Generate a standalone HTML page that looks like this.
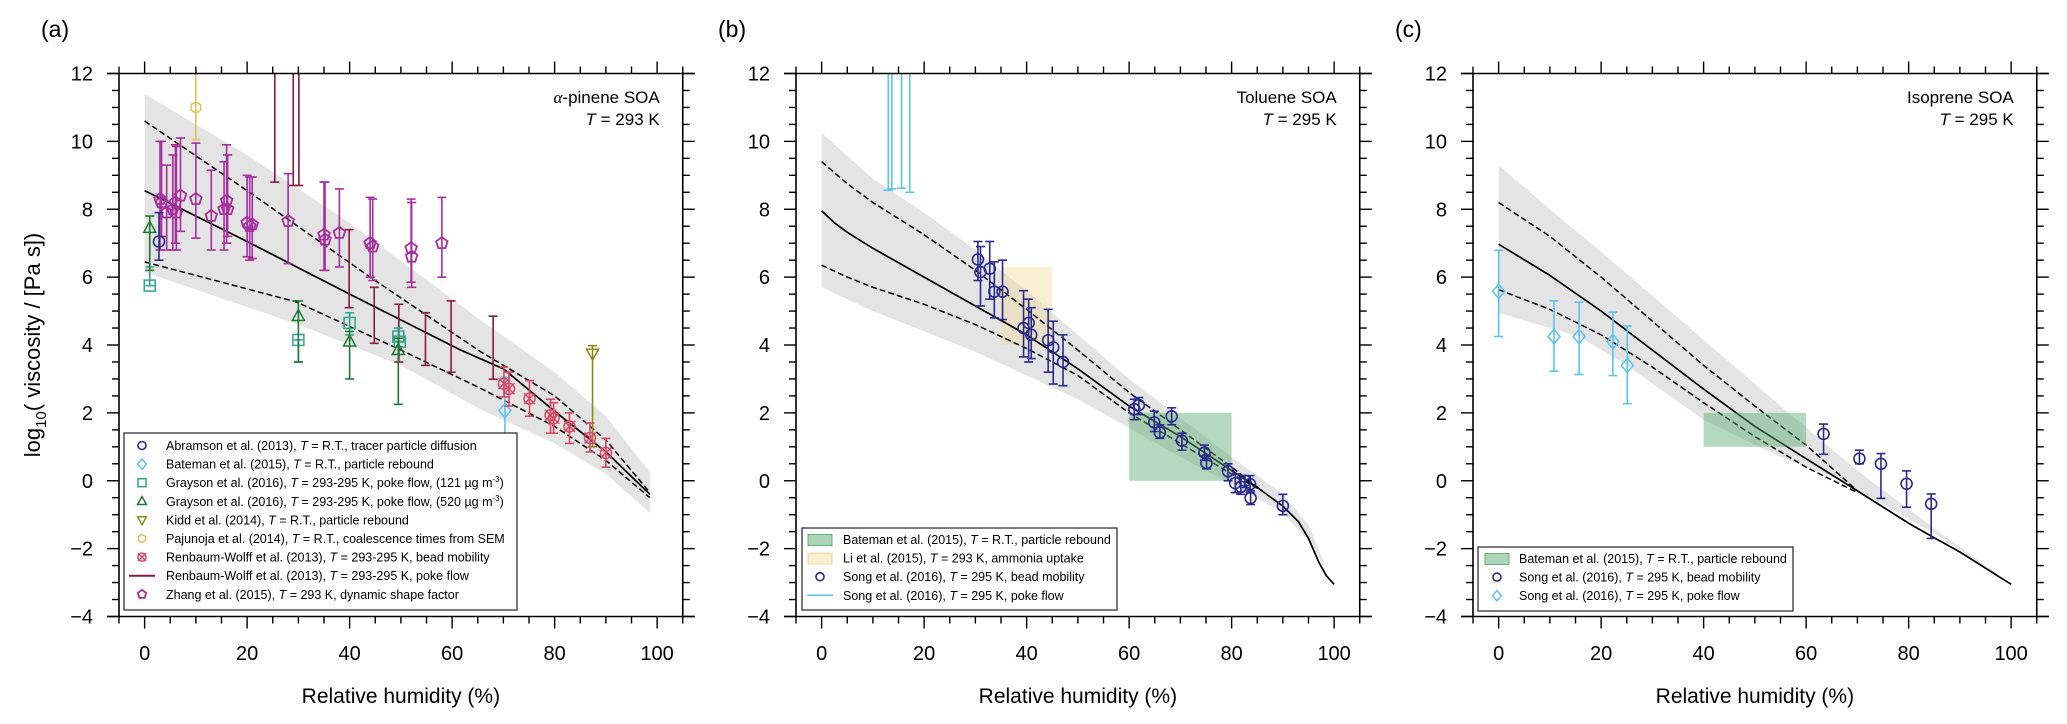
<!DOCTYPE html>
<html><head><meta charset="utf-8"><style>
html,body{margin:0;padding:0;background:#fff;}
svg{display:block;font-family:"Liberation Sans",Arial,sans-serif;}
</style></head><body>
<svg id="fig" width="2067" height="724" viewBox="0 0 2067 724" xmlns="http://www.w3.org/2000/svg"></svg>
<script>
// ---------- Panel (a) alpha-pinene data ----------
const aBandUpper=[[0,11.4],[20,9.6],[40,7.6],[65.6,4.73],[80,3.2],[90,1.9],[98.6,0.25]];
const aBandLower=[[0,6.15],[30,4.6],[50,3.4],[65.6,2.1],[80,1.1],[90,0.2],[98.6,-0.95]];
const aSolid=[[0,8.55],[20,7.05],[40,5.5],[61.7,3.85],[70,3.3],[80,2.05],[90,0.85],[98.6,-0.4]];
const aDashUp=[[0,10.6],[20,8.55],[44,6.0],[65.6,3.8],[80,2.5],[90,1.2],[98.6,-0.35]];
const aDashLo=[[0,6.45],[29.6,5.27],[50,3.85],[65.6,2.72],[80,1.6],[90,0.6],[98.6,-0.5]];
const aZhang=[[3,8.3,10.0,6.8],[3.3,8.2,10.0,7.2],[4.3,7.9,9.3,6.8],[5.5,8.0,9.6,6.8],[6,8.2,9.9,7.0],[6.2,7.9,9.85,6.8],[7,8.4,10.1,7.35],[10,8.3,9.95,7.15],[13,7.8,9.15,6.8],[15.5,8.0,9.4,6.8],[16,8.25,9.9,7.0],[16.2,8.0,9.6,7.2],[20,7.6,9.0,6.6],[20.5,7.5,8.95,6.5],[21,7.55,8.95,6.55],[28,7.65,9.05,6.4],[35,7.25,8.8,6.2],[35.2,7.1,8.8,6.2],[38,7.3,8.6,6.3],[44,7.0,8.35,6.0],[44.5,6.9,8.3,5.9],[52,6.85,8.3,5.85],[52.1,6.6,8.2,5.7],[58,7.0,8.35,6.0]];
const aRWPoke=[[25.4,12,8.8],[29,12,8.7],[30.1,12,8.7],[39.9,7.4,5.1],[44.8,5.7,4.05],[49.6,5.2,3.5],[54.8,4.95,3.4],[59.8,5.3,3.2],[68,4.85,2.99]];
const aRWBead=[[70.1,2.86,3.35,2.47],[71.1,2.71,3.2,2.2],[75.1,2.42,2.95,1.9],[79.2,1.93,2.4,1.4],[79.8,1.84,2.3,1.4],[82.9,1.6,2.0,1.1],[86.9,1.26,1.7,0.85],[90,0.82,1.25,0.4]];
const aBateman=[[70.3,2.07,3.05,1.1]];
const aKidd=[[87.4,3.75,3.98,1.0]];
const aPajunoja=[[10,11.0,12,10.05]];
const aAbramson=[[2.8,7.05,7.9,6.5]];
const aGrayson121=[[1,5.75,6.3,5.75],[30,4.15,4.15,3.5],[40,4.65,4.95,4.3],[49.5,4.25,4.5,3.95],[49.8,4.1,4.1,4.1]];
const aGrayson520=[[1,7.45,7.8,6.2],[30,4.85,5.3,3.5],[40,4.1,4.4,3.0],[49.5,3.85,4.2,2.25]];
// ---------- Panel (b) toluene ----------
const bBandUpper=[[0,10.25],[10,8.9],[20,7.9],[30,6.8],[40,5.6],[50,4.3],[60,3.0],[70,1.85],[80,0.7],[90,-0.4],[95,-1.3],[98,-2.4]];
const bBandLower=[[0,5.7],[10,5.0],[20,4.4],[30,3.8],[40,3.1],[50,2.4],[60,1.55],[70,0.7],[80,-0.1],[90,-0.95],[95,-1.8],[98,-2.5]];
const bSolid=[[0,7.95],[2.5,7.6],[5,7.32],[10,6.85],[20,6.0],[30,5.15],[40,4.3],[50,3.3],[60,2.2],[70,1.3],[80,0.3],[85,-0.2],[90,-0.75],[93,-1.2],[95,-1.7],[97,-2.4],[98.5,-2.8],[100,-3.05]];
const bDashUp=[[0,9.4],[5,8.75],[10,8.2],[20,7.25],[30,6.2],[40,5.05],[50,3.85],[60,2.6],[70,1.5],[80,0.4],[86,-0.3]];
const bDashLo=[[0,6.35],[5,6.0],[10,5.7],[20,5.2],[30,4.6],[40,3.9],[50,3.1],[60,2.0],[70,1.1],[80,0.2],[86,-0.3]];
const bSongPoke=[[13,12,8.56],[13.7,12,8.6],[15.6,12,8.62],[17.2,12,8.5]];
const bSongBead=[[30.5,6.52,7.05,5.9],[31,6.15,6.9,5.15],[32.8,6.25,7.05,5.35],[33.7,5.57,6.45,4.8],[35.3,5.57,6.5,4.75],[39.4,4.5,5.6,3.65],[40.4,4.65,5.35,3.5],[40.9,4.3,5.1,3.6],[44.2,4.14,5.05,3.2],[45.2,3.93,4.7,2.85],[47.1,3.5,4.3,2.8],[61,2.11,2.4,1.8],[61.9,2.23,2.45,1.95],[64.9,1.72,2.05,1.45],[66,1.42,1.65,1.25],[68.3,1.9,2.15,1.65],[70.3,1.18,1.4,0.9],[74.7,0.83,1.05,0.6],[75.1,0.52,0.75,0.35],[79.3,0.28,0.5,0.0],[80.7,-0.07,0.2,-0.35],[81.8,-0.18,0.1,-0.4],[82.6,0.0,0.15,-0.2],[83.6,-0.1,0.15,-0.35],[83.7,-0.51,-0.3,-0.7],[90,-0.74,-0.4,-1.0]];
const bBatemanBox=[60,80,0,2];
const bLiBox=[35,45,4.0,6.3];
// ---------- Panel (c) isoprene ----------
const cBandUpper=[[0,9.3],[10,8.0],[20,6.75],[30,5.45],[40,4.15],[50,2.85],[56,2.07],[70,0.3],[85,-1.4],[100,-3.05]];
const cBandLower=[[0,4.94],[15.7,4.25],[25,3.4],[40,1.8],[55,0.7],[65.4,0.1],[84.5,-1.5],[100,-3.05]];
const cSolid=[[0,6.97],[10,6.05],[20,5.0],[30,3.85],[40,2.7],[50,1.6],[60,0.65],[70,-0.3],[80,-1.25],[84.5,-1.64],[90,-2.1],[100,-3.05]];
const cDashUp=[[0,8.2],[10,7.2],[20,6.0],[30,4.7],[40,3.4],[50,2.2],[60,1.05],[70,-0.3]];
const cDashLo=[[0,5.63],[10,5.05],[20,4.3],[30,3.35],[40,2.3],[50,1.3],[60,0.4],[70,-0.35]];
const cBateman=[[0,5.58,6.79,4.25],[10.8,4.25,5.3,3.23],[15.7,4.25,5.26,3.13],[22.3,4.1,4.97,3.1],[25.1,3.4,4.56,2.27]];
const cSongBead=[[63.4,1.38,1.67,0.78],[70.4,0.65,0.9,0.5],[74.6,0.5,0.8,-0.52],[79.6,-0.09,0.29,-0.78],[84.4,-0.68,-0.39,-1.7]];
const cBatemanBox=[40,60,1,2];
// ---------- axes ----------
const xTicks=[0,20,40,60,80,100];
const yTicks=[-4,-2,0,2,4,6,8,10,12];

const svg=document.getElementById('fig');
const NS='http://www.w3.org/2000/svg';
const LEFT=[119,796,1473], PW=563.75, TOP=73.5, BOT=616.5;
const XMIN=-5,XMAX=105,YMIN=-4,YMAX=12;
function X(p,v){return LEFT[p]+(v-XMIN)/(XMAX-XMIN)*PW;}
function Y(v){return TOP+(YMAX-v)/(YMAX-YMIN)*(BOT-TOP);}
function el(tag,attrs,parent){const e=document.createElementNS(NS,tag);for(const k in attrs)e.setAttribute(k,attrs[k]);(parent||svg).appendChild(e);return e;}
function txt(s,attrs,parent){const e=el('text',attrs,parent);e.textContent=s;return e;}

const defs=el('defs',{});
for(let p=0;p<3;p++){const cp=el('clipPath',{id:'clip'+p},defs);el('rect',{x:LEFT[p],y:TOP,width:PW,height:BOT-TOP},cp);}

function band(p,up,lo,g){
  const pts=up.map(d=>X(p,d[0]).toFixed(1)+','+Y(d[1]).toFixed(1)).concat(lo.slice().reverse().map(d=>X(p,d[0]).toFixed(1)+','+Y(d[1]).toFixed(1)));
  const e=el('polygon',{points:pts.join(' '),fill:'#e4e4e4',stroke:'none'},g);
  
  
}
function curve(p,data,dash,name,g){
  const d=data.map((q,i)=>(i?'L':'M')+X(p,q[0]).toFixed(1)+','+Y(q[1]).toFixed(1)).join('');
  const e=el('path',{d:d,fill:'none',stroke:'#000','stroke-width':dash?1.5:1.7,'stroke-dasharray':dash?'6 3':'none','stroke-linejoin':'round'},g);
  
  
}
function marker(shape,cx,cy,color,g,r){
  r=r||5.5;let e;
  if(shape==='circle')e=el('circle',{cx:cx,cy:cy,r:r,fill:'none',stroke:color,'stroke-width':1.6},g);
  else if(shape==='diamond')e=el('polygon',{points:`${cx},${cy-r*1.3} ${cx+r*1.1},${cy} ${cx},${cy+r*1.3} ${cx-r*1.1},${cy}`,fill:'none',stroke:color,'stroke-width':1.5},g);
  else if(shape==='square')e=el('rect',{x:cx-r,y:cy-r,width:2*r,height:2*r,fill:'none',stroke:color,'stroke-width':1.5},g);
  else if(shape==='tri')e=el('polygon',{points:`${cx},${cy-r*1.2} ${cx+r*1.1},${cy+r*0.8} ${cx-r*1.1},${cy+r*0.8}`,fill:'none',stroke:color,'stroke-width':1.5},g);
  else if(shape==='itri')e=el('polygon',{points:`${cx},${cy+r*1.2} ${cx+r*1.1},${cy-r*0.8} ${cx-r*1.1},${cy-r*0.8}`,fill:'none',stroke:color,'stroke-width':1.5},g);
  else if(shape==='hex'){let pts=[];for(let i=0;i<6;i++){const a=Math.PI/6+i*Math.PI/3;pts.push((cx+r*Math.cos(a)).toFixed(1)+','+(cy+r*Math.sin(a)).toFixed(1));}e=el('polygon',{points:pts.join(' '),fill:'none',stroke:color,'stroke-width':1.5},g);}
  else if(shape==='pent'){let pts=[];for(let i=0;i<5;i++){const a=-Math.PI/2+i*2*Math.PI/5;pts.push((cx+r*1.1*Math.cos(a)).toFixed(1)+','+(cy+r*1.1*Math.sin(a)).toFixed(1));}e=el('polygon',{points:pts.join(' '),fill:'none',stroke:color,'stroke-width':1.8},g);}
  else if(shape==='cross'){e=el('g',{},g);el('circle',{cx:cx,cy:cy,r:r,fill:'none',stroke:color,'stroke-width':1.5},e);el('path',{d:`M${cx-r},${cy-r}L${cx+r},${cy+r}M${cx+r},${cy-r}L${cx-r},${cy+r}`,stroke:color,'stroke-width':1.5},e);}
  return e;
}
function errPoints(p,data,shape,color,name,g){
  data.forEach(d=>{
    const cx=X(p,d[0]),cy=Y(d[1]),yh=Y(d[2]),yl=Y(d[3]);
    const gg=el('g',{},g);
    
    
    el('line',{x1:cx,y1:yh,x2:cx,y2:yl,stroke:color,'stroke-width':1.6},gg);
    if(d[2]<YMAX)el('line',{x1:cx-4.5,y1:yh,x2:cx+4.5,y2:yh,stroke:color,'stroke-width':1.6},gg);
    el('line',{x1:cx-4.5,y1:yl,x2:cx+4.5,y2:yl,stroke:color,'stroke-width':1.6},gg);
    marker(shape,cx,cy,color,gg);
  });
}
function rangeBars(p,data,color,name,g){
  data.forEach(d=>{
    const cx=X(p,d[0]),yh=Y(d[1]),yl=Y(d[2]);
    const e=el('g',{},g);
    
    
    el('line',{x1:cx,y1:yh,x2:cx,y2:yl,stroke:color,'stroke-width':1.6},e);
    if(d[1]<YMAX)el('line',{x1:cx-4.5,y1:yh,x2:cx+4.5,y2:yh,stroke:color,'stroke-width':1.6},e);
    el('line',{x1:cx-4.5,y1:yl,x2:cx+4.5,y2:yl,stroke:color,'stroke-width':1.6},e);
  });
}
function box(p,b,fill,name,g){
  const e=el('rect',{x:X(p,b[0]),y:Y(b[3]),width:X(p,b[1])-X(p,b[0]),height:Y(b[2])-Y(b[3]),fill:fill,stroke:'none'},g);
  
  
}
function axes(p,letter){
  const g=el('g',{});
  
  
  const L=LEFT[p],R=L+PW,T=12;
  el('line',{x1:L-T,y1:TOP,x2:R+T,y2:TOP,stroke:'#000','stroke-width':1.6},g);
  el('line',{x1:L-T,y1:BOT,x2:R+T,y2:BOT,stroke:'#000','stroke-width':1.6},g);
  el('line',{x1:L,y1:TOP,x2:L,y2:BOT,stroke:'#000','stroke-width':1.6},g);
  el('line',{x1:R,y1:TOP,x2:R,y2:BOT,stroke:'#000','stroke-width':1.6},g);
  for(let v=-5;v<=105;v+=5){
    const x=X(p,v),len=(v%20===0)?12:7;
    el('line',{x1:x,y1:TOP,x2:x,y2:TOP-len,stroke:'#000','stroke-width':1.4},g);
    el('line',{x1:x,y1:BOT,x2:x,y2:BOT+len,stroke:'#000','stroke-width':1.4},g);
  }
  for(let v=-4;v<=12;v+=0.5){
    const y=Y(v),len=(v%2===0)?12:7;
    el('line',{x1:L,y1:y,x2:L-len,y2:y,stroke:'#000','stroke-width':1.4},g);
    el('line',{x1:R,y1:y,x2:R+len,y2:y,stroke:'#000','stroke-width':1.4},g);
  }
  xTicks.forEach(v=>{const t=txt(String(v),{x:X(p,v),y:660,'font-size':20,'text-anchor':'middle'},g);
    
    });
  yTicks.forEach(v=>{const t=txt(v<0?'\u2212'+(-v):String(v),{x:L-26,y:Y(v)+7,'font-size':20,'text-anchor':'end'},g);
    
    });
  const xt=txt('Relative humidity (%)',{x:L+PW/2,y:703,'font-size':21,'text-anchor':'middle'},g);
  
  
  const pl=txt('('+letter+')',{x:L-78,y:37,'font-size':23},g);
  
  
}
function annot(p,line1,isAlpha,temp){
  const g=el('g',{});
  
  
  const xr=LEFT[p]+PW-23;
  const t1=el('text',{x:xr,y:103,'font-size':17,'text-anchor':'end'},g);
  if(isAlpha){const s=el('tspan',{'font-style':'italic','font-family':'"Liberation Serif",serif'},t1);s.textContent='\u03B1';const s2=el('tspan',{},t1);s2.textContent='-'+line1;}
  else t1.textContent=line1;
  const t2=el('text',{x:xr,y:125,'font-size':17,'text-anchor':'end'},g);
  const i=el('tspan',{'font-style':'italic'},t2);i.textContent='T';const r=el('tspan',{},t2);r.textContent=' = '+temp;
}
function legend(x,y,w,h,rows,rowY,textX,markX,name){
  const g=el('g',{});
  
  
  el('rect',{x:x,y:y,width:w,height:h,fill:'#fff',stroke:'#333','stroke-width':1.3},g);
  rows.forEach((r,i)=>{
    const cy=y+rowY+i*18.6;
    const e=el('g',{},g);
    
    
    if(r.kind==='line')el('line',{x1:markX-13,y1:cy,x2:markX+13,y2:cy,stroke:r.color,'stroke-width':r.w||2},e);
    else if(r.kind==='patch')el('rect',{x:markX-12,y:cy-5,width:24,height:11,fill:r.color,stroke:r.stroke,'stroke-width':1},e);
    else marker(r.kind,markX,cy,r.color,e,4);
    const t=el('text',{x:textX,y:cy+4.5,'font-size':12.5},e);
    const a=el('tspan',{},t);a.textContent=r.pre;
    const it=el('tspan',{'font-style':'italic'},t);it.textContent='T';
    const b=el('tspan',{},t);b.textContent=r.post;
    if(r.sup){const s=el('tspan',{dy:-5,'font-size':8},t);s.textContent='-3';const s2=el('tspan',{dy:5},t);s2.textContent=')';}
  });
}
const C={zhang:'#a62f9e',rwp:'#8a1a3f',rwb:'#d44a68',abr:'#2a2a8e',bat:'#5cc2ee',g121:'#2fa58e',g520:'#1d7a32',kidd:'#8d8a16',paj:'#e2c255'};

// Panel a
(function(){const p=0;const g=el('g',{'clip-path':'url(#clip0)'});
  
  
  band(p,aBandUpper,aBandLower,g);
  curve(p,aDashUp,true,'upper-dashed-line',g);curve(p,aDashLo,true,'lower-dashed-line',g);curve(p,aSolid,false,'model-line',g);
  rangeBars(p,aRWPoke,C.rwp,'renbaum-wolff-poke-flow',g);
  errPoints(p,aZhang,'pent',C.zhang,'zhang-point',g);
  errPoints(p,aGrayson121,'square',C.g121,'grayson-121-point',g);
  errPoints(p,aGrayson520,'tri',C.g520,'grayson-520-point',g);
  errPoints(p,aAbramson,'circle',C.abr,'abramson-point',g);
  errPoints(p,aPajunoja,'hex',C.paj,'pajunoja-point',g);
  errPoints(p,aBateman,'diamond',C.bat,'bateman-point',g);
  errPoints(p,aKidd,'itri',C.kidd,'kidd-point',g);
  errPoints(p,aRWBead,'cross',C.rwb,'renbaum-wolff-bead-point',g);
  axes(p,'a');annot(p,'pinene SOA',true,'293 K');
  legend(124,433,393,177,[
    {kind:'circle',color:C.abr,pre:'Abramson et al. (2013), ',post:' = R.T.,  tracer particle diffusion'},
    {kind:'diamond',color:C.bat,pre:'Bateman et al. (2015), ',post:' = R.T., particle rebound'},
    {kind:'square',color:C.g121,pre:'Grayson et al. (2016), ',post:' = 293-295 K, poke flow, (121 \u00B5g m',sup:1},
    {kind:'tri',color:C.g520,pre:'Grayson et al. (2016), ',post:' = 293-295 K, poke flow, (520 \u00B5g m',sup:1},
    {kind:'itri',color:C.kidd,pre:'Kidd et al. (2014), ',post:' = R.T., particle rebound'},
    {kind:'hex',color:C.paj,pre:'Pajunoja et al. (2014), ',post:' = R.T.,  coalescence times from SEM'},
    {kind:'cross',color:C.rwb,pre:'Renbaum-Wolff et al. (2013), ',post:' = 293-295 K, bead mobility'},
    {kind:'line',color:C.rwp,pre:'Renbaum-Wolff et al. (2013), ',post:' = 293-295 K, poke flow'},
    {kind:'pent',color:C.zhang,pre:'Zhang et al. (2015), ',post:' = 293 K, dynamic shape factor'}
  ],12.5,166,142,'legend-panel-a');
})();
// Panel b
(function(){const p=1;const g=el('g',{'clip-path':'url(#clip1)'});
  
  
  band(p,bBandUpper,bBandLower,g);
  box(p,bLiBox,'rgba(240,220,160,0.45)','li-ammonia-box',g);
  curve(p,bDashUp,true,'upper-dashed-line',g);curve(p,bDashLo,true,'lower-dashed-line',g);curve(p,bSolid,false,'model-line',g);
  box(p,bBatemanBox,'rgba(90,170,110,0.45)','bateman-rebound-box',g);
  rangeBars(p,bSongPoke,C.bat,'song-poke-flow',g);
  errPoints(p,bSongBead,'circle',C.abr,'song-bead-point',g);
  axes(p,'b');annot(p,'Toluene SOA',false,'295 K');
  legend(802,528,315,82,[
    {kind:'patch',color:'rgba(90,170,110,0.5)',stroke:'#6bb07e',pre:'Bateman et al. (2015), ',post:' = R.T., particle rebound'},
    {kind:'patch',color:'rgba(240,220,160,0.5)',stroke:'#e8dca8',pre:'Li et al. (2015), ',post:' = 293 K, ammonia uptake'},
    {kind:'circle',color:C.abr,pre:'Song et al. (2016), ',post:' = 295 K, bead mobility'},
    {kind:'line',color:C.bat,w:1.5,pre:'Song et al. (2016), ',post:' = 295 K, poke flow'}
  ],11.5,843,820,'legend-panel-b');
})();
// Panel c
(function(){const p=2;const g=el('g',{'clip-path':'url(#clip2)'});
  
  
  band(p,cBandUpper,cBandLower,g);
  curve(p,cDashUp,true,'upper-dashed-line',g);curve(p,cDashLo,true,'lower-dashed-line',g);curve(p,cSolid,false,'model-line',g);
  box(p,cBatemanBox,'rgba(90,170,110,0.45)','bateman-rebound-box',g);
  errPoints(p,cBateman,'diamond',C.bat,'bateman-point',g);
  errPoints(p,cSongBead,'circle',C.abr,'song-bead-point',g);
  axes(p,'c');annot(p,'Isoprene SOA',false,'295 K');
  legend(1478,547,315,64,[
    {kind:'patch',color:'rgba(90,170,110,0.5)',stroke:'#6bb07e',pre:'Bateman et al. (2015), ',post:' = R.T., particle rebound'},
    {kind:'circle',color:C.abr,pre:'Song et al. (2016), ',post:' = 295 K, bead mobility'},
    {kind:'diamond',color:C.bat,pre:'Song et al. (2016), ',post:' = 295 K, poke flow'}
  ],11.5,1519,1497,'legend-panel-c');
})();
// y-axis title
(function(){const t=el('text',{x:0,y:0,'font-size':22,'text-anchor':'middle',transform:'translate(40,345) rotate(-90)'});
  
  
  const a=el('tspan',{},t);a.textContent='log';
  const b=el('tspan',{dy:6,'font-size':15},t);b.textContent='10';
  const c=el('tspan',{dy:-6},t);c.textContent='( viscosity / [Pa s])';
})();
</script>
</body></html>
